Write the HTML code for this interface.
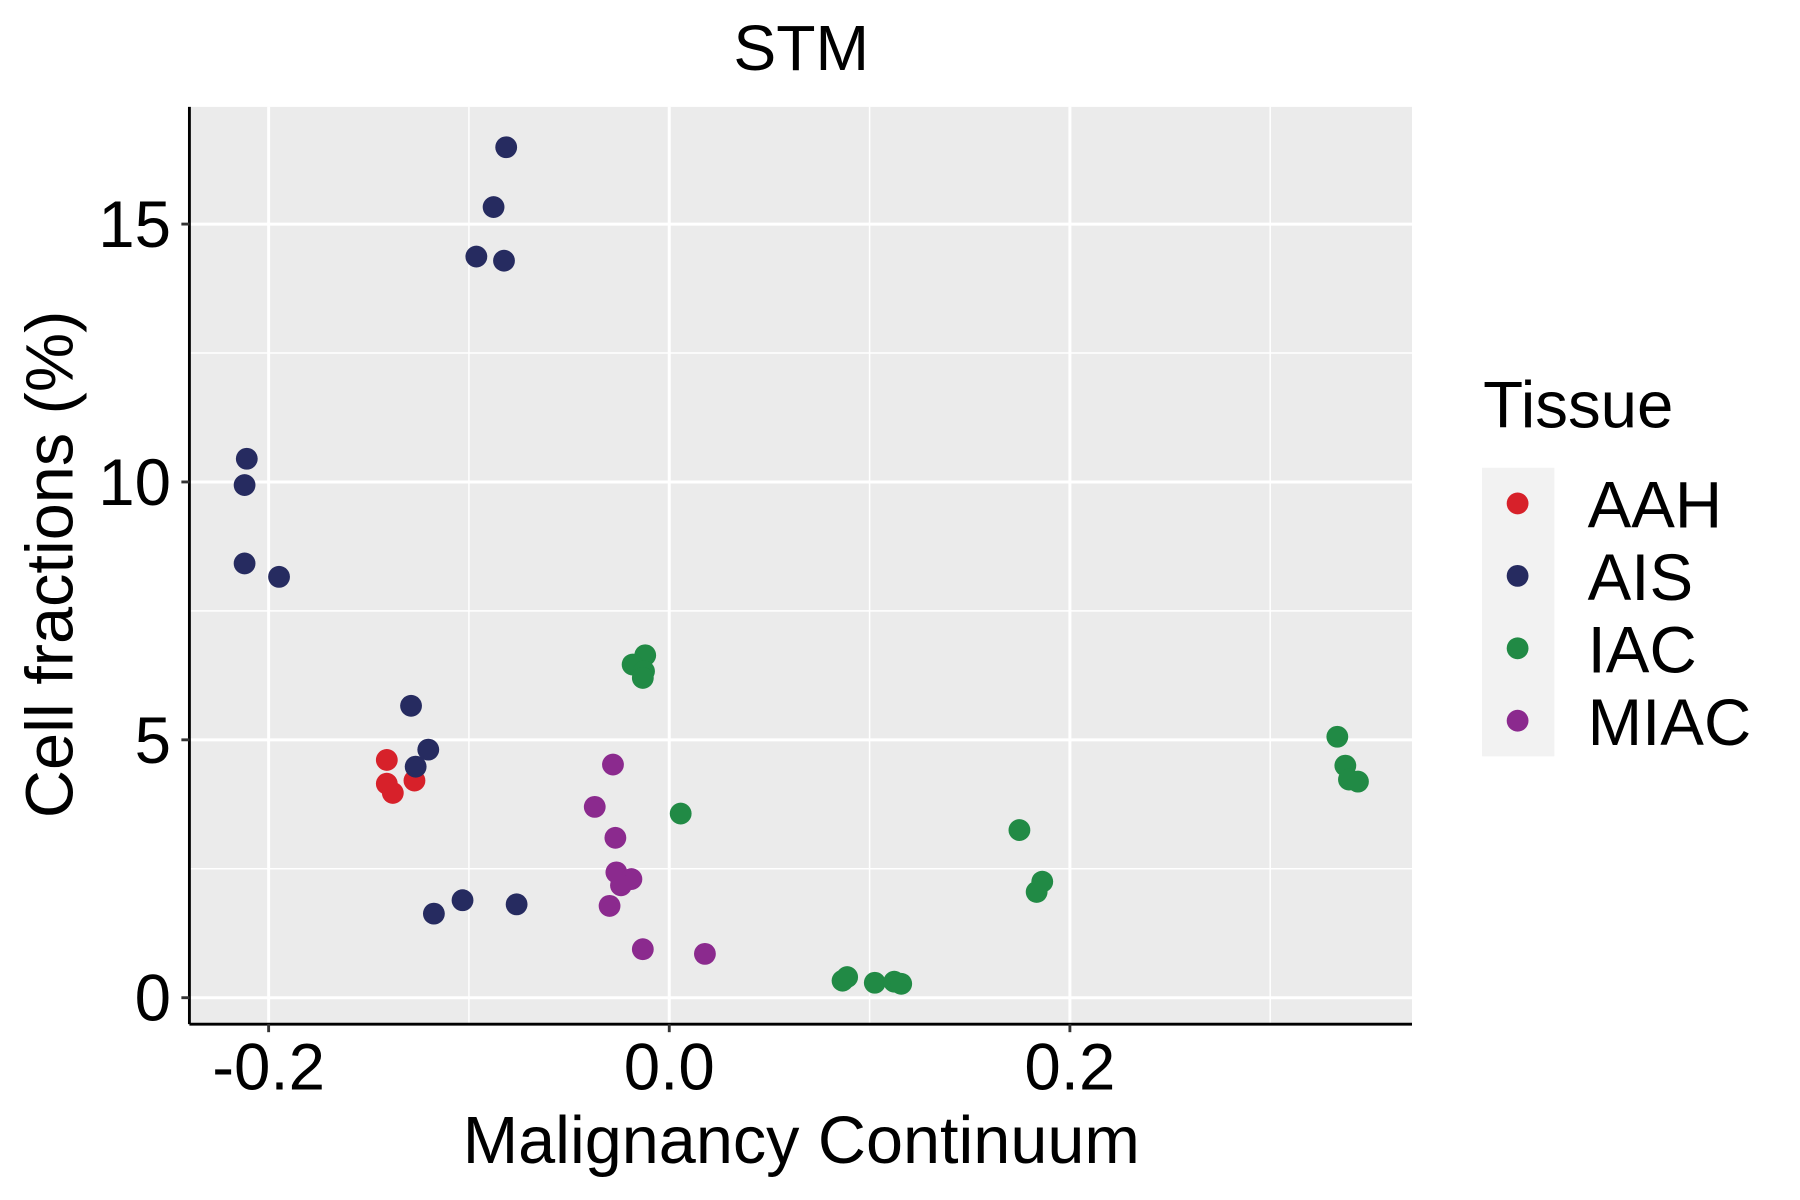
<!DOCTYPE html>
<html><head><meta charset="utf-8"><style>
html,body{margin:0;padding:0;background:#fff}
svg{display:block}
text{font-family:"Liberation Sans",sans-serif;fill:#000}
</style></head><body>
<svg id="chart" width="1800" height="1200" viewBox="0 0 1568 1044" preserveAspectRatio="none" xmlns="http://www.w3.org/2000/svg">
<rect x="0" y="0" width="1568" height="1044" fill="#fff"/>
<rect x="165" y="93" width="1065" height="798" fill="#EBEBEB"/>
<g id="grid"></g>
<g id="points"></g>
<line x1="165" y1="93" x2="165" y2="891" stroke="#000" stroke-width="2.5"/>
<line x1="165" y1="891" x2="1230" y2="891" stroke="#000" stroke-width="2.5"/>
<g id="ticks"></g>
<text x="698" y="61" font-size="56" text-anchor="middle">STM</text>
<text x="698" y="1012" font-size="58" text-anchor="middle">Malignancy Continuum</text>
<text transform="translate(63,491) rotate(-90)" font-size="58" text-anchor="middle">Cell fractions (%)</text>
<g>
<text x="1292" y="372" font-size="57">Tissue</text>
<rect x="1291" y="407" width="63" height="251" fill="#F2F2F2"/>
<g id="legend-entries"></g>
</g>
</svg>
<script>
const categories = ["AAH","AIS","IAC","MIAC"];
const colors = ["#D7212A","#262B60","#218A45","#8B2A8E"];
const aahX = [-0.141,-0.141,-0.138,-0.1272];
const aahY = [4.61,4.15,3.97,4.21];
const aisX = [-0.0814,-0.0877,-0.0963,-0.0825,-0.2109,-0.212,-0.212,-0.1948,-0.1289,-0.1203,-0.1266,-0.1175,-0.1032,-0.0762];
const aisY = [16.49,15.33,14.37,14.29,10.45,9.94,8.42,8.16,5.66,4.81,4.48,1.63,1.89,1.81];
const iacX = [-0.012,-0.0183,-0.0126,-0.0132,0.0057,0.1748,0.1862,0.1834,0.0865,0.0888,0.1026,0.1123,0.1158,0.3335,0.3375,0.3393,0.3438];
const iacY = [6.64,6.46,6.33,6.20,3.57,3.25,2.25,2.05,0.33,0.40,0.29,0.31,0.27,5.06,4.50,4.23,4.19];
const miacX = [-0.0281,-0.0372,-0.0269,-0.0264,-0.0189,-0.0241,-0.0298,-0.0132,0.0178];
const miacY = [4.52,3.70,3.10,2.43,2.30,2.18,1.78,0.94,0.85];
const xTicks = [-0.2,0.0,0.2];
const xTickLabels = ["-0.2","0.0","0.2"];
const xMinor = [-0.1,0.1,0.3];
const yTicks = [0,5,10,15];
const yTickLabels = ["0","5","10","15"];
const yMinor = [2.5,7.5,12.5];

const NS="http://www.w3.org/2000/svg";
function xs(v){return 583+v*1745;}
function ys(v){return 868-v*44.87;}
function mk(tag,attrs,parent){const e=document.createElementNS(NS,tag);for(const k in attrs)e.setAttribute(k,attrs[k]);parent.appendChild(e);return e;}
const grid=document.getElementById('grid'),ticks=document.getElementById('ticks'),pts=document.getElementById('points'),leg=document.getElementById('legend-entries');
yMinor.forEach(v=>{const l=mk('line',{x1:165,x2:1230,y1:ys(v),y2:ys(v),stroke:'#fff','stroke-width':1.3},grid);

});
xMinor.forEach(v=>{const l=mk('line',{x1:xs(v),x2:xs(v),y1:93,y2:891,stroke:'#fff','stroke-width':1.3},grid);

});
yTicks.forEach((v,i)=>{const l=mk('line',{x1:165,x2:1230,y1:ys(v),y2:ys(v),stroke:'#fff','stroke-width':2.6},grid);


const t=mk('line',{x1:158,x2:165,y1:ys(v),y2:ys(v),stroke:'#333','stroke-width':2.5},ticks);


const tx=mk('text',{x:149,y:ys(v)+20,'font-size':57,'text-anchor':'end'},ticks);tx.textContent=yTickLabels[i];

});
xTicks.forEach((v,i)=>{const l=mk('line',{x1:xs(v),x2:xs(v),y1:93,y2:891,stroke:'#fff','stroke-width':2.6},grid);


const t=mk('line',{x1:xs(v),x2:xs(v),y1:891,y2:898,stroke:'#333','stroke-width':2.5},ticks);


const tx=mk('text',{x:xs(v),y:948,'font-size':57,'text-anchor':'middle'},ticks);tx.textContent=xTickLabels[i];

});
const series=[[aahX,aahY],[aisX,aisY],[iacX,iacY],[miacX,miacY]];
series.forEach((s,k)=>{s[0].forEach((xv,j)=>{const c=mk('circle',{cx:xs(xv),cy:ys(s[1][j]),r:9.5,fill:colors[k]},pts);

});});
categories.forEach((c,i)=>{const y=438+i*63;
const d=mk('circle',{cx:1322,cy:y,r:9.5,fill:colors[i]},leg);


const t=mk('text',{x:1383,y:y+21,'font-size':57},leg);t.textContent=c;

});
</script>
</body></html>
